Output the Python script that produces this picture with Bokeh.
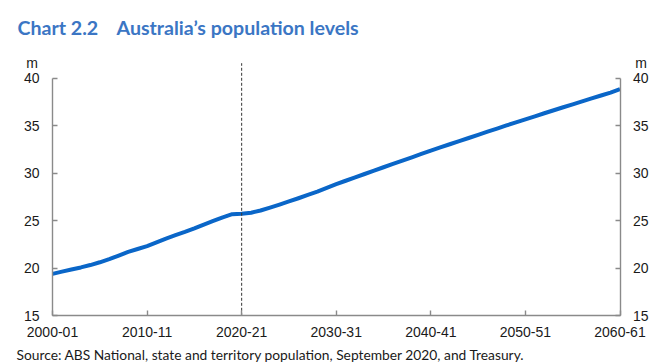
from bokeh.plotting import figure
from bokeh.models import LinearAxis, FixedTicker, Label, Range1d, ColumnDataSource
from bokeh.embed import file_html
from bokeh.resources import INLINE

# ---------------- data ----------------
years = list(range(2000, 2061))  # financial year start (2000 -> 2000-01)
population = [
    19.41, 19.65, 19.87, 20.09, 20.34, 20.63, 20.96, 21.34, 21.72, 22.03,
    22.34, 22.73, 23.13, 23.48, 23.82, 24.19, 24.60, 24.98, 25.36, 25.69,
    25.74, 25.85, 26.08, 26.38, 26.70, 27.03, 27.37, 27.72, 28.07, 28.45,
    28.85, 29.21, 29.57, 29.92, 30.28, 30.63, 30.98, 31.33, 31.68, 32.03,
    32.38, 32.72, 33.05, 33.38, 33.71, 34.04, 34.37, 34.70, 35.03, 35.35,
    35.67, 35.99, 36.31, 36.63, 36.94, 37.25, 37.56, 37.87, 38.18, 38.49,
    38.85,
]
x_ticks = [2000, 2010, 2020, 2030, 2040, 2050, 2060]
x_tick_labels = ["2000-01", "2010-11", "2020-21", "2030-31", "2040-41", "2050-51", "2060-61"]
y_ticks = [15, 20, 25, 30, 35, 40]
divider_year = 2020

title_num = "Chart 2.2"
title_text = "Australia\u2019s population levels"
unit = "m"
source_text = "Source: ABS National, state and territory population, September 2020, and Treasury."

# ---------------- layout / style ----------------
W, H = 660, 363
PX_LEFT, PX_RIGHT = 52.0, 619.5      # pixel x of first / last x tick
PX_TOP, PX_BOTTOM = 77.7, 315.3      # pixel y of top / bottom y tick
PX_DIVIDER_TOP = 62.7                # pixel y where dashed divider starts

x0, x1 = x_ticks[0], x_ticks[-1]
y0, y1 = y_ticks[0], y_ticks[-1]
kx = (PX_RIGHT - PX_LEFT) / (x1 - x0)
ky = (PX_BOTTOM - PX_TOP) / (y1 - y0)
x_start = x0 - PX_LEFT / kx
x_end = x_start + W / kx
y_end = y1 + PX_TOP / ky
y_start = y_end - H / ky
divider_top = y_end - PX_DIVIDER_TOP / ky

LINE_COLOR = "#0a66c8"
TITLE_COLOR = "#3b76c4"
AXIS_COLOR = "#8a8a8a"
TEXT_COLOR = "#1a1a1a"
TICK_FONT = "Liberation Sans"
TICK_SIZE = "14px"

p = figure(width=W, height=H, output_backend="svg", toolbar_location=None,
           x_range=Range1d(x_start, x_end), y_range=Range1d(y_start, y_end),
           min_border=0, x_axis_location=None, y_axis_location=None)
p.outline_line_color = None
p.xgrid.visible = False
p.ygrid.visible = False
p.background_fill_color = "white"
p.border_fill_color = "white"

def style_axis(ax):
    ax.axis_line_color = AXIS_COLOR
    ax.axis_line_width = 1.4
    ax.major_tick_line_color = AXIS_COLOR
    ax.major_tick_line_width = 1.4
    ax.major_tick_in = 5
    ax.major_tick_out = 0
    ax.minor_tick_line_color = None
    ax.major_label_text_font = TICK_FONT
    ax.major_label_text_font_size = TICK_SIZE
    ax.major_label_text_color = TEXT_COLOR

xax = LinearAxis(ticker=FixedTicker(ticks=x_ticks), bounds=(x0, x1), fixed_location=y0)
xax.major_label_overrides = {t: l for t, l in zip(x_ticks, x_tick_labels)}
style_axis(xax)
xax.major_label_standoff = 11
p.add_layout(xax, "below")

for side, loc in (("left", x0), ("right", x1)):
    yax = LinearAxis(ticker=FixedTicker(ticks=y_ticks), bounds=(y0, y1), fixed_location=loc)
    style_axis(yax)
    yax.major_label_standoff = 13
    p.add_layout(yax, side)

src = ColumnDataSource(dict(x=years, y=population))
p.line("x", "y", source=src, line_color=LINE_COLOR, line_width=4, line_join="round")

p.segment(x0=[divider_year], y0=[y0], x1=[divider_year], y1=[divider_top],
          line_color="#333333", line_width=1, line_dash="3 2")

def canvas_label(x, y, text, align="left", font=TICK_FONT, size=TICK_SIZE, style="normal",
                 color=TEXT_COLOR):
    p.add_layout(Label(x=x, y=y, x_units="canvas", y_units="canvas", text=text,
                       text_align=align, text_baseline="alphabetic", text_font=font,
                       text_font_size=size, text_font_style=style, text_color=color))

canvas_label(31.5, 62, unit, align="center")
canvas_label(640.5, 62, unit, align="center")
canvas_label(17, 27, title_num, font="Lato", size="19.6px", style="bold", color=TITLE_COLOR)
canvas_label(116, 27, title_text, font="Lato", size="19.6px", style="bold", color=TITLE_COLOR)
canvas_label(16, 354, source_text, font="Lato", size="13.8px")

open("out.html", "w").write(file_html(p, INLINE))
